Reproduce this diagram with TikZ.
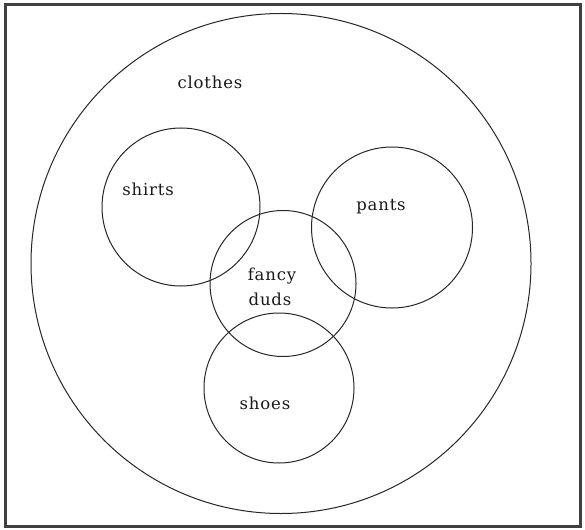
\documentclass[tikz,border=0pt]{standalone}
\usepackage{fontspec}
\newfontfamily\labfont{DejaVu Serif}[LetterSpace=5]
\begin{document}
\begin{tikzpicture}[x=1pt,y=-1pt,
  setcircle/.style={draw=black!85,line width=1pt,circle,inner sep=0pt,fill=none},
  frame/.style={draw=black!75,line width=2.5pt},
  lab/.style={font=\labfont\fontsize{16.5}{19}\selectfont,anchor=base,inner sep=0pt,text=black!90}]
\useasboundingbox (0,0) rectangle (585,529);
\draw[frame] (5.5,4.5) rectangle (580.5,526.5);
\node[setcircle,minimum size=500pt] (clothes) at (281,263.5) {};
\node[setcircle,minimum size=158pt] (shirts) at (181,207) {};
\node[setcircle,minimum size=161pt] (pants) at (392,227.5) {};
\node[setcircle,minimum size=146pt] (fancy) at (283,283.5) {};
\node[setcircle,minimum size=150pt] (shoes) at (279,388) {};
\node[lab] (tclothes) at (210,89) {clothes};
\node[lab] (tshirts) at (148,195) {shirts};
\node[lab] (tpants) at (381,210) {pants};
\node[lab] (tfancy) at (272,280) {fancy};
\node[lab] (tduds) at (270,305) {duds};
\node[lab] (tshoes) at (265,409) {shoes};
\end{tikzpicture}
\end{document}
